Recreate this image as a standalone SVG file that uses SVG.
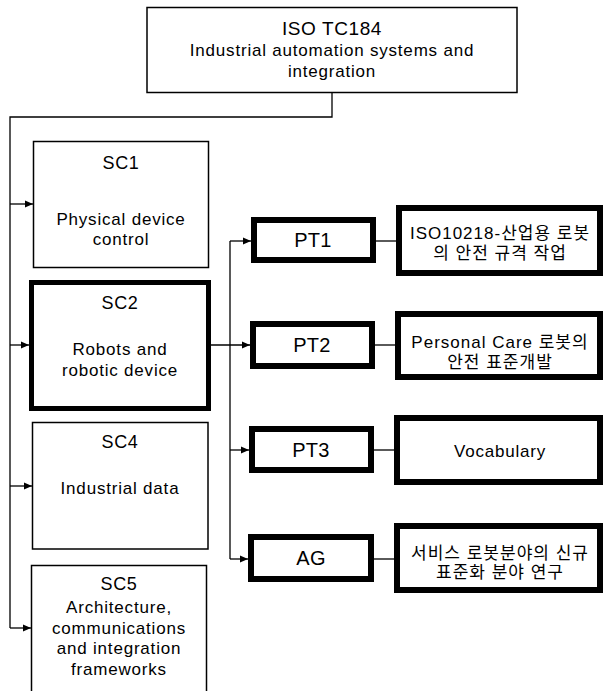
<svg xmlns="http://www.w3.org/2000/svg" width="606" height="691" viewBox="0 0 606 691">
<style>
  .bg{fill:#fff}
  .thin{fill:#fff;stroke:#000;stroke-width:1.5}
  .sc2{fill:#fff;stroke:#000;stroke-width:5}
  .pt{fill:#fff;stroke:#000;stroke-width:6}
  .rb{fill:#fff;stroke:#000;stroke-width:6}
  .t{font-family:"Liberation Sans","Noto Sans CJK KR",sans-serif;fill:#000;text-anchor:middle;font-size:17px;letter-spacing:0.8px}
  .h{font-size:18px;letter-spacing:0.6px}
  .ti{font-size:19px;letter-spacing:0.6px}
  .p{font-size:20px;letter-spacing:0.3px}
  .k{letter-spacing:1px}
  .c{fill:none;stroke:#000;stroke-width:1.3}
</style>
<defs>
  <marker id="ah" viewBox="0 0 8 8" refX="8" refY="4" markerWidth="8" markerHeight="8" markerUnits="userSpaceOnUse" orient="auto">
    <path d="M0,0.5 L8,4 L0,7.5 Z" fill="#000"/>
  </marker>
</defs>
<rect class="bg" x="0" y="0" width="606" height="691"/>

<g id="connectors">
  <path class="c" d="M332,92 V117 H10 V628"/>
  <path class="c" d="M10,204 H33" marker-end="url(#ah)"/>
  <path class="c" d="M10,345 H29" marker-end="url(#ah)"/>
  <path class="c" d="M10,486 H32" marker-end="url(#ah)"/>
  <path class="c" d="M10,628 H31" marker-end="url(#ah)"/>
  <path class="c" d="M211,345 H250" marker-end="url(#ah)"/>
  <path class="c" d="M230,241 V559"/>
  <path class="c" d="M230,241 H251" marker-end="url(#ah)"/>
  <path class="c" d="M230,450 H249" marker-end="url(#ah)"/>
  <path class="c" d="M230,559 H248" marker-end="url(#ah)"/>
  <path class="c" d="M376,241 H396"/>
  <path class="c" d="M375,345 H395"/>
  <path class="c" d="M374,450 H394"/>
  <path class="c" d="M374,559 H394"/>
</g>

<g id="tc184">
  <rect class="thin" x="147" y="7.5" width="370" height="85"/>
  <text class="t ti" x="332" y="35">ISO TC184</text>
  <text class="t" x="332" y="56">Industrial automation systems and</text>
  <text class="t" x="332" y="77">integration</text>
</g>

<g id="sc1">
  <rect class="thin" x="33.5" y="141.5" width="175" height="126"/>
  <text class="t h" x="121" y="169">SC1</text>
  <text class="t" x="121" y="225">Physical device</text>
  <text class="t" x="121" y="245">control</text>
</g>

<g id="sc2">
  <rect class="sc2" x="31.5" y="282.5" width="177" height="126"/>
  <text class="t h" x="120" y="309">SC2</text>
  <text class="t" x="120" y="355">Robots and</text>
  <text class="t" x="120" y="376">robotic device</text>
</g>

<g id="sc4">
  <rect class="thin" x="32.5" y="422.5" width="175.5" height="126.5"/>
  <text class="t h" x="120" y="448">SC4</text>
  <text class="t" x="120" y="494">Industrial data</text>
</g>

<g id="sc5">
  <rect class="thin" x="31.5" y="565.5" width="175" height="135"/>
  <text class="t h" x="119" y="590">SC5</text>
  <text class="t" x="119" y="613">Architecture,</text>
  <text class="t" x="119" y="634">communications</text>
  <text class="t" x="119" y="654">and integration</text>
  <text class="t" x="119" y="675">frameworks</text>
</g>

<g id="pt1">
  <rect class="pt" x="254" y="220" width="119" height="40"/>
  <text class="t p" x="313" y="247">PT1</text>
</g>
<g id="pt2">
  <rect class="pt" x="253" y="324" width="119" height="42"/>
  <text class="t p" x="312" y="352">PT2</text>
</g>
<g id="pt3">
  <rect class="pt" x="252" y="429" width="119" height="41"/>
  <text class="t p" x="311" y="457">PT3</text>
</g>
<g id="ag">
  <rect class="pt" x="251" y="537" width="120" height="42"/>
  <text class="t p" x="311" y="565">AG</text>
</g>

<g id="r1">
  <rect class="rb" x="399" y="208" width="201" height="65"/>
  <text class="t k" x="500" y="239">ISO10218-산업용 로봇</text>
  <text class="t k" x="500" y="259">의 안전 규격 작업</text>
</g>
<g id="r2">
  <rect class="rb" x="398" y="314" width="202" height="63"/>
  <text class="t k" x="500" y="348">Personal Care 로봇의</text>
  <text class="t k" x="500" y="368">안전 표준개발</text>
</g>
<g id="r3">
  <rect class="rb" x="397" y="418" width="203" height="64"/>
  <text class="t" x="500" y="457">Vocabulary</text>
</g>
<g id="r4">
  <rect class="rb" x="397" y="526" width="203" height="64"/>
  <text class="t k" x="500" y="559">서비스 로봇분야의 신규</text>
  <text class="t k" x="500" y="578">표준화 분야 연구</text>
</g>
</svg>
